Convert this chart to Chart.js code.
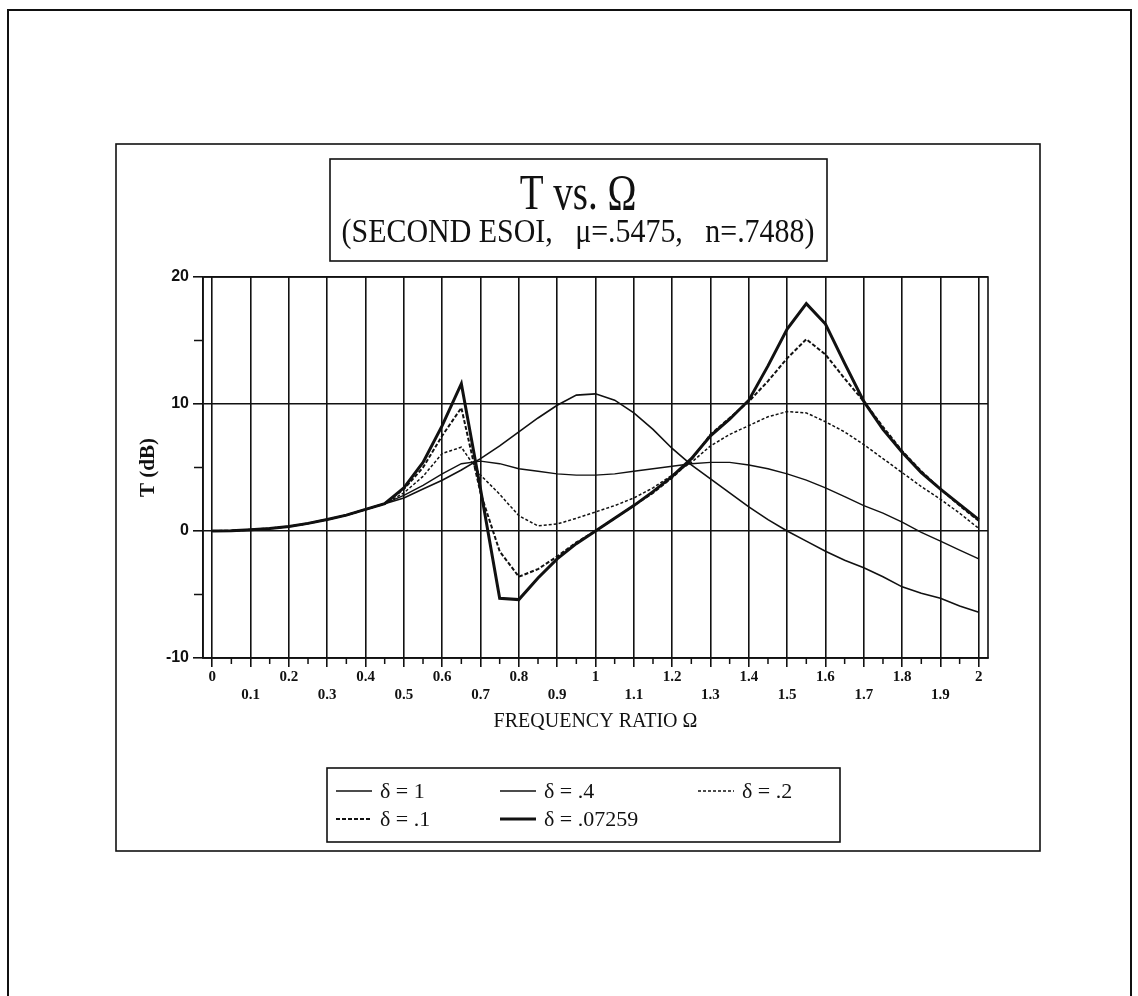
<!DOCTYPE html>
<html>
<head>
<meta charset="utf-8">
<title>T vs. Ω</title>
<script src="https://cdn.jsdelivr.net/npm/chart.js@4.4.1/dist/chart.umd.min.js"></script>
<style>
  html, body { margin: 0; padding: 0; background: #fff; }
  canvas { display: block; }
</style>
</head>
<body>
<canvas id="tChart" width="1138" height="996"></canvas>
<script>
// frequency ratio samples (Ω)
const freq = [0, 0.05, 0.1, 0.15, 0.2, 0.25, 0.3, 0.35, 0.4, 0.45,
  0.5, 0.55, 0.6, 0.65, 0.7, 0.75, 0.8, 0.85, 0.9, 0.95,
  1.0, 1.05, 1.1, 1.15, 1.2, 1.25, 1.3, 1.35, 1.4, 1.45,
  1.5, 1.55, 1.6, 1.65, 1.7, 1.75, 1.8, 1.85, 1.9, 1.95, 2.0];

// transmissibility T (dB) for each damping value
const tDelta1 = [0, 0.02, 0.1, 0.2, 0.35, 0.6, 0.9, 1.25, 1.7, 2.15,
  2.6, 3.3, 4.0, 4.8, 5.7, 6.7, 7.8, 8.9, 9.9, 10.7,
  10.8, 10.3, 9.3, 8.0, 6.5, 5.2, 4.1, 3.0, 1.9, 0.9,
  0.0, -0.8, -1.6, -2.3, -2.9, -3.6, -4.4, -4.9, -5.3, -5.9, -6.4];
const tDelta04 = [0, 0.02, 0.1, 0.2, 0.35, 0.6, 0.9, 1.25, 1.7, 2.15,
  2.8, 3.6, 4.5, 5.3, 5.5, 5.3, 4.9, 4.7, 4.5, 4.4,
  4.4, 4.5, 4.7, 4.9, 5.1, 5.3, 5.4, 5.4, 5.2, 4.9,
  4.5, 4.0, 3.4, 2.7, 2.0, 1.4, 0.7, -0.1, -0.8, -1.5, -2.2];
const tDelta02 = [0, 0.02, 0.1, 0.2, 0.35, 0.6, 0.9, 1.25, 1.7, 2.15,
  3.0, 4.3, 6.1, 6.6, 4.4, 2.9, 1.2, 0.4, 0.55, 1.0,
  1.5, 2.0, 2.6, 3.4, 4.4, 5.4, 6.7, 7.6, 8.3, 9.0,
  9.4, 9.3, 8.6, 7.8, 6.8, 5.7, 4.6, 3.5, 2.5, 1.4, 0.2];
const tDelta01 = [0, 0.02, 0.1, 0.2, 0.35, 0.6, 0.9, 1.25, 1.7, 2.15,
  3.3, 5.0, 7.5, 9.7, 3.0, -1.6, -3.6, -3.0, -2.0, -0.9,
  0.0, 1.0, 2.0, 3.0, 4.2, 5.6, 7.6, 8.9, 10.2, 11.8,
  13.6, 15.1, 13.9, 12.0, 10.2, 8.2, 6.3, 4.7, 3.3, 2.0, 0.8];
const tDeltaOpt = [0, 0.02, 0.1, 0.2, 0.35, 0.6, 0.9, 1.25, 1.7, 2.15,
  3.4, 5.4, 8.3, 11.6, 3.3, -5.3, -5.4, -3.7, -2.2, -1.0,
  0.0, 1.0, 2.0, 3.1, 4.3, 5.7, 7.5, 8.8, 10.3, 13.0,
  15.9, 17.9, 16.3, 13.2, 10.2, 8.0, 6.2, 4.6, 3.3, 2.1, 0.9];

const deltaLabels = ['δ = 1', 'δ = .4', 'δ = .2', 'δ = .1', 'δ = .07259'];

// axis ticks
const freqTicks = [0, 0.1, 0.2, 0.3, 0.4, 0.5, 0.6, 0.7, 0.8, 0.9, 1.0,
  1.1, 1.2, 1.3, 1.4, 1.5, 1.6, 1.7, 1.8, 1.9, 2.0];
const freqTickLabels = ['0', '0.1', '0.2', '0.3', '0.4', '0.5', '0.6', '0.7', '0.8', '0.9', '1',
  '1.1', '1.2', '1.3', '1.4', '1.5', '1.6', '1.7', '1.8', '1.9', '2'];
const freqMinorTicks = [0.05, 0.15, 0.25, 0.35, 0.45, 0.55, 0.65, 0.75, 0.85, 0.95,
  1.05, 1.15, 1.25, 1.35, 1.45, 1.55, 1.65, 1.75, 1.85, 1.95];
const tdbTicks = [-10, 0, 10, 20];
const tdbMinorTicks = [-5, 5, 15];

const INK = '#111';
const SERIF = '"Liberation Serif", "Times New Roman", serif';

function points(values) {
  return values.map((v, i) => ({ x: freq[i], y: v }));
}

function curve(label, values, width, dash) {
  return {
    label: label,
    data: points(values),
    borderColor: INK,
    borderWidth: width,
    borderDash: dash,
    pointRadius: 0,
    tension: 0,
    fill: false
  };
}

// sheet border, outer frame, title box and legend box
const paperPlugin = {
  id: 'paper',
  beforeDraw(chart) {
    const ctx = chart.ctx;
    ctx.save();
    ctx.fillStyle = '#fff';
    ctx.fillRect(0, 0, chart.width, chart.height);
    ctx.strokeStyle = INK;
    ctx.lineWidth = 2;
    ctx.beginPath();
    ctx.moveTo(8, 996);
    ctx.lineTo(8, 10);
    ctx.lineTo(1131, 10);
    ctx.lineTo(1131, 996);
    ctx.stroke();

    ctx.lineWidth = 1.6;
    ctx.strokeRect(116, 144, 924, 707);
    ctx.strokeRect(330, 159, 497, 102);
    ctx.strokeRect(327, 768, 513, 74);

    // title lines, slightly condensed
    ctx.fillStyle = INK;
    ctx.textAlign = 'center';
    ctx.textBaseline = 'alphabetic';
    ctx.save();
    ctx.translate(578, 209);
    ctx.scale(0.78, 1);
    ctx.font = '50px ' + SERIF;
    ctx.fillText('T vs. Ω', 0, 0);
    ctx.restore();
    ctx.save();
    ctx.translate(578, 242);
    ctx.scale(0.88, 1);
    ctx.font = '34px ' + SERIF;
    ctx.fillText('(SECOND ESOI,   μ=.5475,   n=.7488)', 0, 0);
    ctx.restore();
    ctx.restore();
  },
  afterDraw(chart) {
    const ctx = chart.ctx;
    const area = chart.chartArea;
    const xs = chart.scales.x;
    const ys = chart.scales.y;
    ctx.save();
    ctx.strokeStyle = INK;
    ctx.lineWidth = 1.6;
    ctx.strokeRect(area.left, area.top, area.right - area.left, area.bottom - area.top);

    // minor ticks
    ctx.lineWidth = 1.5;
    ctx.beginPath();
    freqMinorTicks.forEach(v => {
      const px = xs.getPixelForValue(v);
      ctx.moveTo(px, area.bottom);
      ctx.lineTo(px, area.bottom + 6);
    });
    tdbMinorTicks.forEach(v => {
      const py = ys.getPixelForValue(v);
      ctx.moveTo(area.left - 9, py);
      ctx.lineTo(area.left, py);
    });
    ctx.stroke();

    // legend, three entries per row
    const cols = [336, 500, 698];
    const rows = [791, 819];
    ctx.fillStyle = INK;
    ctx.font = '22px ' + SERIF;
    ctx.textAlign = 'left';
    ctx.textBaseline = 'middle';
    chart.data.datasets.forEach((ds, i) => {
      const x0 = cols[i % 3];
      const y0 = rows[Math.floor(i / 3)];
      ctx.save();
      ctx.lineWidth = ds.borderWidth;
      ctx.setLineDash(ds.borderDash || []);
      ctx.beginPath();
      ctx.moveTo(x0, y0);
      ctx.lineTo(x0 + 36, y0);
      ctx.stroke();
      ctx.restore();
      ctx.fillText(ds.label, x0 + 44, y0 + 1);
    });
    ctx.restore();
  }
};

new Chart(document.getElementById('tChart'), {
  type: 'line',
  data: {
    datasets: [
      curve(deltaLabels[0], tDelta1, 1.6, []),
      curve(deltaLabels[1], tDelta04, 1.4, []),
      curve(deltaLabels[2], tDelta02, 1.5, [3, 2]),
      curve(deltaLabels[3], tDelta01, 2, [4, 2]),
      curve(deltaLabels[4], tDeltaOpt, 3, [])
    ]
  },
  options: {
    responsive: false,
    animation: false,
    devicePixelRatio: 1,
    layout: { padding: { left: 0, top: 277, right: 150, bottom: 258 } },
    plugins: {
      legend: { display: false },
      title: { display: false },
      tooltip: { enabled: false }
    },
    scales: {
      x: {
        type: 'linear',
        min: -0.024,
        max: 2.024,
        afterBuildTicks: s => { s.ticks = freqTicks.map(v => ({ value: v })); },
        afterFit: s => { s.height = 80; },
        grid: { color: INK, lineWidth: 1.6, tickLength: 9, tickColor: INK },
        border: { color: INK, width: 1.6 },
        ticks: {
          autoSkip: false,
          maxRotation: 0,
          minRotation: 0,
          padding: 1,
          color: INK,
          font: { family: SERIF, size: 15, weight: 'bold', lineHeight: 1.2 },
          callback: (v, i) => (i % 2 ? ['', freqTickLabels[i]] : freqTickLabels[i])
        },
        title: {
          display: true,
          text: 'FREQUENCY RATIO Ω',
          color: INK,
          font: { family: SERIF, size: 20 },
          padding: { top: 0, bottom: 4 }
        }
      },
      y: {
        min: -10,
        max: 20,
        afterBuildTicks: s => { s.ticks = tdbTicks.map(v => ({ value: v })); },
        afterFit: s => { s.width = 203; },
        grid: { color: INK, lineWidth: 1.6, tickLength: 10, tickColor: INK },
        border: { color: INK, width: 1.6 },
        ticks: {
          padding: 4,
          color: INK,
          font: { family: '"Liberation Sans", Arial, sans-serif', size: 16, weight: 'bold' },
          callback: v => String(v)
        },
        title: {
          display: true,
          text: 'T (dB)',
          color: INK,
          font: { family: SERIF, size: 21, weight: 'bold' },
          padding: { top: 136, bottom: 0 }
        }
      }
    }
  },
  plugins: [paperPlugin]
});
</script>
</body>
</html>
